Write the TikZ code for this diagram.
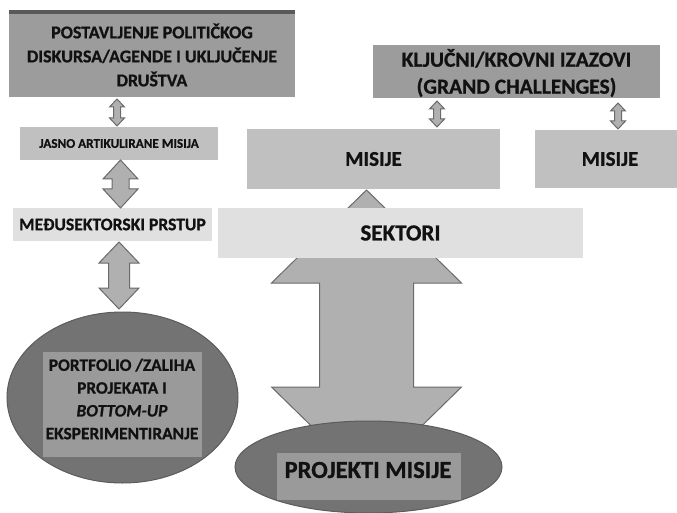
\documentclass[tikz,border=0pt]{standalone}
\usepackage{fontspec}
\IfFontExistsTF{Carlito Bold}
  {\setmainfont{Carlito}[BoldFont={Carlito Bold}, BoldItalicFont={Carlito Bold Italic},
     BoldFeatures={FakeBold=0.8}, BoldItalicFeatures={FakeBold=0.8}]}
  {\setmainfont{Carlito}[BoldFont={Carlito}, BoldItalicFont={Carlito Italic},
     BoldFeatures={FakeBold=2.5}, BoldItalicFeatures={FakeBold=2.5}]}
\usetikzlibrary{shapes.geometric}
\definecolor{gband}{HTML}{595959}
\definecolor{gtop}{HTML}{9C9C9C}
\definecolor{gmis}{HTML}{C0C0C0}
\definecolor{glight}{HTML}{E0E0E0}
\definecolor{garr}{HTML}{B0B0B0}
\definecolor{garrline}{HTML}{6A6A6A}
\definecolor{gell}{HTML}{737373}
\definecolor{gellline}{HTML}{5C5C5C}
\definecolor{ginner}{HTML}{9A9A9A}
\definecolor{txt}{HTML}{111111}
\newcommand\dblarr[6]{%
  \draw[arr] (#1,#2) -- (#1+#4,#2+#6) -- (#1+#5,#2+#6) -- (#1+#5,#3-#6) -- (#1+#4,#3-#6) -- (#1,#3)
    -- (#1-#4,#3-#6) -- (#1-#5,#3-#6) -- (#1-#5,#2+#6) -- (#1-#4,#2+#6) -- cycle;}
\begin{document}
\begin{tikzpicture}[x=1pt,y=-1pt,
  box/.style={rectangle, inner sep=0pt, align=center, text=txt, font=\bfseries},
  arr/.style={fill=garr, draw=garrline, line width=1pt, line join=miter},
  ell/.style={ellipse, inner sep=0pt, fill=gell, draw=gellline, line width=1pt},
  inner/.style={rectangle, inner sep=0pt, fill=ginner}]
\useasboundingbox (0,0) rectangle (677,513);
% top-left
\node[box, fill=gtop, minimum width=286pt, minimum height=87pt] (pol) at (152,53.5) {};
\fill[gband] (9,10) rectangle (295,14);
\node[box, font=\bfseries\fontsize{18}{24}\selectfont] (poltxt) at (152,55)
  {POSTAVLJENJE POLITIČKOG\\DISKURSA/AGENDE I UKLJUČENJE\\DRUŠTVA};
% grand challenges
\node[box, fill=gtop, minimum width=287pt, minimum height=53pt] (gc) at (516.5,71.5) {};
\node[box, font=\bfseries\fontsize{21.5}{27}\selectfont] (gctxt) at (516.5,73)
  {KLJUČNI/KROVNI IZAZOVI\\(GRAND CHALLENGES)};
% misije
\node[box, fill=gmis, minimum width=253pt, minimum height=60pt,
  font=\bfseries\fontsize{21}{24}\selectfont] (mis1) at (373.5,159) {MISIJE};
\node[box, fill=gmis, minimum width=142pt, minimum height=58pt] (mis2) at (606,159) {};
\node[box, font=\bfseries\fontsize{21}{24}\selectfont] (mis2txt) at (610,159) {MISIJE};
% jasno
\node[box, fill=gmis, minimum width=198pt, minimum height=33pt,
  font=\bfseries\fontsize{13.2}{16}\selectfont] (jas) at (119,143.5) {JASNO ARTIKULIRANE MISIJA};
% medjusektorski
\node[box, fill=glight, minimum width=199pt, minimum height=33pt,
  font=\bfseries\fontsize{17.6}{20}\selectfont] (med) at (112.5,224.5) {MEĐUSEKTORSKI PRSTUP};
% small arrows
\dblarr{117}{99}{126}{7.5}{3.5}{8}
\dblarr{437}{101}{127}{7.5}{3.5}{8}
\dblarr{618}{103}{129}{7.5}{3.5}{8}
% medium arrows
\dblarr{120.5}{160}{208}{17.5}{8.5}{19}
\dblarr{119}{242}{309}{20}{10.5}{21}
% big arrow
\dblarr{366.5}{190}{480}{95}{47}{93}
% sektori
\node[box, fill=glight, minimum width=365pt, minimum height=50pt,
  font=\bfseries\fontsize{23}{26}\selectfont] (sek) at (400.5,233) {SEKTORI};
% left ellipse
\node[ell, minimum width=231pt, minimum height=171pt] (port) at (122.5,397.5) {};
\node[inner, minimum width=159pt, minimum height=105pt] (portin) at (122.5,404.5) {};
\node[box, font=\bfseries\fontsize{17.4}{22.8}\selectfont] (porttxt) at (122,399)
  {PORTFOLIO /ZALIHA\\PROJEKATA I\\\textit{BOTTOM-UP}\\EKSPERIMENTIRANJE};
% bottom ellipse
\node[ell, minimum width=267pt, minimum height=92pt] (proj) at (368.5,467) {};
\node[inner, minimum width=184pt, minimum height=47pt] (projin) at (369,476.5) {};
\node[box, font=\bfseries\fontsize{24.5}{28}\selectfont] (projtxt) at (368,470) {PROJEKTI MISIJE};
\end{tikzpicture}
\end{document}
